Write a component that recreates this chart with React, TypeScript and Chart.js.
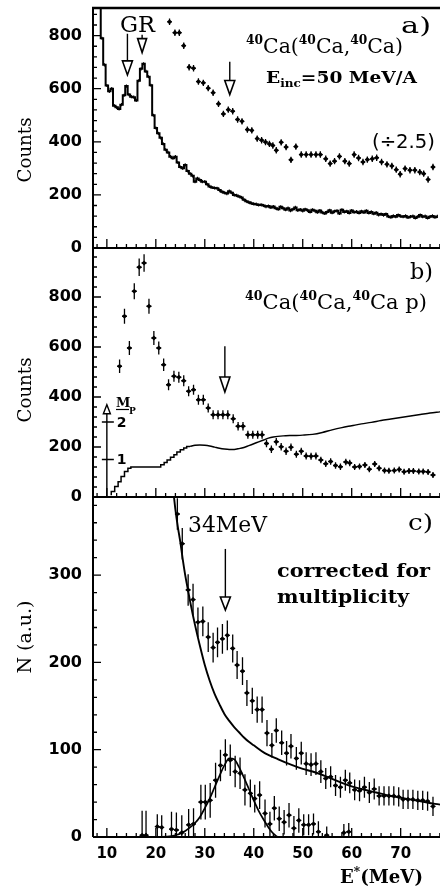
import React, { useEffect, useRef } from "react";
import { Chart, registerables } from "chart.js";
Chart.register(...registerables);

const CW = 460;
const CH = 888;
const SERIF = '"DejaVu Serif", serif';
const SANS = '"DejaVu Sans", sans-serif';

// ---------------- common x axis ----------------
const X_MIN = 7.17;
const X_MAX = 81.3;
const X_LABELS = [10, 20, 30, 40, 50, 60, 70, 80];

// ---------------- panel a ----------------
const A_YMAX = 904;
const A_YTICKS = [0, 200, 400, 600, 800];
const A_HIST_START = 8.0;
const A_HIST_BIN = 0.5;
const A_HIST = [
  990, 930, 790, 690, 612, 590, 600, 536, 530, 524,
  540, 575, 610, 578, 570, 568, 556, 630, 675, 694,
  665, 645, 613, 500, 452, 432, 415, 392, 370, 360,
  344, 338, 344, 322, 305, 300, 313, 290, 280, 272,
  250, 262, 256, 250, 250, 240, 232, 228, 226, 225,
  218, 212, 208, 205, 214, 208, 200, 198, 194, 190,
  182, 176, 172, 169, 166, 165, 162, 163, 160, 156,
  158, 153, 156, 150, 146, 155, 150, 144, 150, 141,
  146, 153, 142, 145, 140, 146, 142, 136, 144, 140,
  135, 141, 134, 130, 136, 142, 133, 138, 140, 130,
  144, 136, 138, 132, 141, 135, 137, 132, 138, 134,
  140, 132, 136, 129, 133, 125, 128, 124, 128, 119,
  116, 121, 118, 124, 120, 118, 121, 115, 118, 120,
  113, 118, 124, 118, 120, 113, 118, 121, 116, 119,
];
const A_HIST_ERR = 6;
const A_PTS_E = [
  22.8, 23.9, 24.8, 25.7, 26.8, 27.7, 28.7, 29.7, 30.7, 31.7,
  32.8, 33.8, 34.8, 35.7, 36.7, 37.6, 38.7, 39.6, 40.7, 41.6,
  42.4, 43.2, 43.9, 44.6, 45.6, 46.6, 47.6, 48.6, 49.7, 50.7,
  51.7, 52.7, 53.6, 54.7, 55.6, 56.5, 57.5, 58.6, 59.5, 60.5,
  61.4, 62.3, 63.2, 64.2, 65.1, 66.1, 67.2, 68.2, 69.1, 69.9,
  70.9, 71.9, 72.9, 73.9, 74.7, 75.6, 76.6,
];
const A_PTS_V = [
  852, 811, 811, 762, 681, 677, 627, 622, 602, 585,
  543, 505, 521, 515, 484, 477, 446, 443, 412, 406,
  399, 392, 386, 368, 398, 380, 332, 382, 352, 352,
  352, 352, 352, 336, 318, 327, 345, 327, 318, 352,
  339, 324, 333, 336, 340, 324, 315, 309, 295, 278,
  299, 293, 293, 286, 280, 258, 305,
];
const A_PTS_ERR = 12;

// ---------------- panel b ----------------
const B_YMAX = 996;
const B_YTICKS = [0, 200, 400, 600, 800];
const B_E = [
  12.6, 13.6, 14.6, 15.6, 16.6, 17.6, 18.6, 19.6, 20.6, 21.6,
  22.6, 23.7, 24.7, 25.7, 26.7, 27.7, 28.7, 29.7, 30.7, 31.7,
  32.7, 33.7, 34.7, 35.8, 36.8, 37.8, 38.8, 39.8, 40.8, 41.7,
  42.6, 43.6, 44.6, 45.6, 46.6, 47.6, 48.7, 49.7, 50.7, 51.7,
  52.7, 53.7, 54.7, 55.7, 56.7, 57.7, 58.8, 59.6, 60.6, 61.6,
  62.7, 63.6, 64.7, 65.6, 66.7, 67.6, 68.7, 69.7, 70.7, 71.7,
  72.6, 73.7, 74.6, 75.6, 76.6,
];
const B_V = [
  523, 723, 596, 823, 919, 936, 763, 636, 596, 529,
  449, 483, 479, 465, 423, 429, 389, 389, 356, 329,
  329, 329, 329, 313, 283, 283, 249, 249, 249, 249,
  214, 191, 221, 201, 183, 199, 171, 183, 164, 163,
  164, 148, 133, 142, 126, 121, 140, 136, 120, 122,
  128, 111, 132, 115, 106, 105, 106, 110, 101, 104,
  104, 102, 102, 100, 88,
];
const B_ERR = [
  27, 30, 28, 32, 35, 35, 30, 28, 26, 25,
  22, 22, 22, 22, 20, 20, 20, 20, 18, 18,
  18, 18, 18, 18, 17, 17, 16, 16, 16, 16,
  15, 15, 15, 15, 15, 15, 14, 14, 14, 14,
  14, 13, 13, 13, 13, 13, 13, 13, 12, 12,
  12, 12, 12, 12, 12, 12, 12, 12, 12, 12,
  12, 12, 12, 12, 12,
];
// proton multiplicity (right-hand M_p scale, 1 unit = 150 counts)
const MP_UNIT = 150;
const MP_TICKS = [1, 2];
const MP_STEP_E = [10.9, 11.6, 12.3, 12.9, 13.6, 14.3, 14.9, 21.0, 21.7, 22.3, 23.0, 23.7, 24.3, 25.0, 25.7, 26.3, 27.0];
const MP_STEP_V = [0.05, 0.15, 0.28, 0.41, 0.55, 0.68, 0.77, 0.8, 0.86, 0.92, 0.99, 1.06, 1.13, 1.2, 1.26, 1.31, 1.35];
const MP_E = [27, 28, 29, 30, 31, 32, 33, 34, 35, 36, 37, 38, 39, 40, 41, 42, 43, 44, 46, 48, 50, 52, 54, 56, 58, 60, 62, 64, 66, 68, 70, 72, 74, 76, 78, 80];
const MP_V = [1.35, 1.38, 1.39, 1.38, 1.36, 1.33, 1.3, 1.28, 1.27, 1.27, 1.29, 1.32, 1.37, 1.42, 1.47, 1.52, 1.57, 1.6, 1.63, 1.64, 1.65, 1.67, 1.72, 1.79, 1.85, 1.9, 1.95, 1.99, 2.04, 2.08, 2.12, 2.16, 2.2, 2.24, 2.27, 2.3];

// ---------------- panel c ----------------
const C_YMAX = 389.5;
const C_YTICKS = [0, 100, 200, 300];
const C_E = [
  24.4, 25.4, 26.6, 27.6, 28.6, 29.6, 30.7, 31.7, 32.6, 33.6,
  34.6, 35.7, 36.6, 37.7, 38.6, 39.7, 40.7, 41.7, 42.7, 43.7,
  44.6, 45.7, 46.7, 47.6, 48.7, 49.7, 50.7, 51.7, 52.7, 53.7,
  54.7, 55.7, 56.7, 57.7, 58.7, 59.6, 60.6, 61.6, 62.6, 63.6,
  64.6, 65.6, 66.6, 67.6, 68.6, 69.6, 70.5, 71.5, 72.5, 73.5,
  74.5, 75.5, 76.6,
];
const C_V = [
  370, 336, 283, 272, 246, 247, 229, 217, 223, 227,
  231, 216, 197, 190, 165, 156, 146, 146, 119, 105,
  122, 108, 96, 104, 90, 96, 84, 83, 84, 75,
  67, 69, 59, 57, 65, 62, 54, 53, 57, 51,
  55, 47, 47, 47, 47, 46, 43, 43, 43, 42,
  42, 41, 35,
];
const C_ERR = [
  18, 18, 18, 18, 17, 17, 17, 17, 17, 17,
  17, 16, 16, 16, 15, 15, 15, 15, 15, 14,
  14, 14, 14, 14, 13, 13, 13, 13, 13, 13,
  12, 12, 12, 12, 12, 12, 12, 12, 12, 12,
  12, 11, 11, 11, 11, 11, 11, 11, 11, 11,
  11, 11, 11,
];
const D_E = [
  17.2, 18.0, 20.3, 21.2, 23.2, 24.2, 25.3, 26.7, 27.7, 29.2,
  30.1, 31.1, 32.2, 33.2, 34.2, 35.2, 36.2, 37.2, 38.2, 39.3,
  40.2, 41.2, 42.3, 43.3, 44.2, 45.2, 46.2, 47.2, 48.2, 49.2,
  50.2, 51.2, 52.2, 53.2, 54.9, 58.4, 59.4,
];
const D_V = [
  2, 2, 12, 11, 9, 8, 5, 14, 15, 40,
  40, 42, 65, 82, 94, 88, 75, 73, 54, 50,
  44, 48, 27, 15, 33, 21, 17, 25, 10, 19,
  14, 14, 15, 6, 2, 5, 6,
];
const D_ERR = [
  28, 28, 14, 14, 20, 20, 20, 18, 18, 20,
  20, 20, 20, 18, 18, 18, 18, 18, 18, 16,
  16, 16, 16, 14, 14, 14, 14, 14, 14, 14,
  12, 12, 12, 12, 10, 10, 10,
];
const BG_E = [23.6, 24.0, 24.5, 25.0, 25.5, 26.0, 26.5, 27.0, 28.0, 29.0, 30.0, 31.0, 32.0, 33.0, 34.0, 35.0, 36.0, 37.0, 38.0, 39.0, 40.0, 42.0, 45.0, 48.0, 50.0, 52.0, 55.0, 58.0, 60.0, 62.0, 65.0, 68.0, 70.0, 73.0, 77.0, 81.0];
const BG_V = [395, 375, 355, 338, 318, 300, 285, 270, 243, 219, 197, 179, 164, 152, 141, 133, 126, 120, 114, 109, 105, 97, 89, 82, 78, 75, 69, 62, 58, 55, 51, 47, 45, 42, 38, 35];
const G_E = [16, 20, 24, 26, 27, 28, 29, 30, 31, 32, 33, 34, 35, 36, 37, 38, 39, 40, 41, 42, 43, 44, 45, 50];
const G_V = [0, 0, 2, 7, 11, 16, 23, 33, 44, 57, 70, 82, 90, 89, 80, 68, 55, 42, 30, 20, 11, 4, 0, 0];

// ---------------- helpers ----------------
const pts = (E: number[], V: number[]) => E.map((e, i) => ({ x: e, y: V[i] }));

type Part = { t: string; f: string; dy?: number };
function drawParts(ctx: CanvasRenderingContext2D, parts: Part[], x: number, y: number, width?: number) {
  ctx.save();
  ctx.textAlign = "left";
  ctx.textBaseline = "alphabetic";
  const ws = parts.map((p) => {
    ctx.font = p.f;
    return ctx.measureText(p.t).width;
  });
  const total = ws.reduce((a, b) => a + b, 0);
  const sx = width ? width / total : 1;
  ctx.translate(x, y);
  ctx.scale(sx, 1);
  ctx.fillStyle = "#000";
  let cx = 0;
  parts.forEach((p, i) => {
    ctx.font = p.f;
    ctx.fillText(p.t, cx, p.dy || 0);
    cx += ws[i];
  });
  ctx.restore();
}
function drawRot(ctx: CanvasRenderingContext2D, text: string, font: string, cx: number, cy: number, width: number) {
  ctx.save();
  ctx.translate(cx, cy);
  ctx.rotate(-Math.PI / 2);
  ctx.font = font;
  const w = ctx.measureText(text).width;
  ctx.scale(width / w, 1);
  ctx.textAlign = "center";
  ctx.textBaseline = "middle";
  ctx.fillStyle = "#000";
  ctx.fillText(text, 0, 0);
  ctx.restore();
}
function arrow(ctx: CanvasRenderingContext2D, px: number, yFrom: number, yTip: number, head: number, hw: number) {
  ctx.save();
  ctx.strokeStyle = "#000";
  ctx.lineWidth = 1.4;
  ctx.beginPath();
  ctx.moveTo(px, yFrom);
  ctx.lineTo(px, yTip - head);
  ctx.stroke();
  ctx.beginPath();
  ctx.moveTo(px - hw, yTip - head);
  ctx.lineTo(px + hw, yTip - head);
  ctx.lineTo(px, yTip);
  ctx.closePath();
  ctx.fillStyle = "#fff";
  ctx.fill();
  ctx.lineWidth = 1.6;
  ctx.stroke();
  ctx.restore();
}

const errPlugin = {
  id: "errbars",
  afterDatasetsDraw(chart: any) {
    const { ctx, chartArea: ca } = chart;
    ctx.save();
    ctx.beginPath();
    ctx.rect(ca.left, ca.top, ca.right - ca.left, ca.bottom - ca.top);
    ctx.clip();
    ctx.strokeStyle = "#000";
    chart.data.datasets.forEach((ds: any) => {
      if (!ds.yErr) return;
      const xs = chart.scales.x;
      const ys = chart.scales[ds.yAxisID || "y"];
      ctx.lineWidth = ds.errWidth || 1.3;
      ctx.beginPath();
      ds.data.forEach((p: any, i: number) => {
        const e = Array.isArray(ds.yErr) ? ds.yErr[i] : ds.yErr;
        const px = xs.getPixelForValue(p.x);
        const py = ys.getPixelForValue(p.y);
        ctx.moveTo(px, ys.getPixelForValue(p.y - e));
        ctx.lineTo(px, ys.getPixelForValue(p.y + e));
        if (ds.xErr) {
          ctx.moveTo(xs.getPixelForValue(p.x - ds.xErr), py);
          ctx.lineTo(xs.getPixelForValue(p.x + ds.xErr), py);
        }
      });
      ctx.stroke();
    });
    ctx.restore();
  },
};

function mkFrame(p: { yMax: number; yMajor: number[]; yMinor: number; topW: number; extra: (ctx: CanvasRenderingContext2D, chart: any) => void }) {
  return {
    id: "frame",
    afterDatasetsDraw(chart: any) {
      const ctx: CanvasRenderingContext2D = chart.ctx;
      const { left, right, top, bottom } = chart.chartArea;
      const xs = chart.scales.x;
      const ys = chart.scales.y;
      ctx.save();
      ctx.strokeStyle = "#000";
      ctx.lineWidth = 1.3;
      ctx.beginPath();
      for (let v = 8; v <= 80; v += 2) {
        const px = xs.getPixelForValue(v);
        const len = v % 10 === 0 ? 9 : 4;
        ctx.moveTo(px, bottom);
        ctx.lineTo(px, bottom - len);
      }
      for (let v = 0; v <= p.yMax; v += p.yMinor) {
        const py = ys.getPixelForValue(v);
        const len = p.yMajor.includes(v) ? 8 : 4;
        ctx.moveTo(left, py);
        ctx.lineTo(left + len, py);
      }
      ctx.stroke();
      ctx.lineWidth = 2;
      ctx.beginPath();
      ctx.moveTo(left, top);
      ctx.lineTo(left, bottom);
      ctx.moveTo(left, bottom);
      ctx.lineTo(right, bottom);
      ctx.stroke();
      ctx.lineWidth = p.topW;
      ctx.beginPath();
      ctx.moveTo(left - 1, top);
      ctx.lineTo(right, top);
      ctx.stroke();
      ctx.restore();
      p.extra(ctx, chart);
    },
  };
}

function scales(yMax: number, yTicks: number[], showX: boolean, xHeight: number) {
  return {
    x: {
      type: "linear",
      min: X_MIN,
      max: X_MAX,
      grid: { display: false, drawTicks: false },
      border: { display: false },
      afterBuildTicks: (s: any) => {
        s.ticks = X_LABELS.map((v) => ({ value: v }));
      },
      ticks: { display: showX, color: "#000", padding: 8, maxRotation: 0, autoSkip: false, font: { family: '"DejaVu Sans"', size: 15, weight: "bold" } },
      afterFit: (s: any) => {
        s.height = xHeight;
        s.paddingLeft = 0;
        s.paddingRight = 0;
      },
    },
    y: {
      type: "linear",
      min: 0,
      max: yMax,
      grid: { display: false, drawTicks: false },
      border: { display: false },
      afterBuildTicks: (s: any) => {
        s.ticks = yTicks.map((v) => ({ value: v }));
      },
      ticks: { color: "#000", padding: 11, font: { family: '"DejaVu Sans"', size: 16, weight: "bold" } },
      afterFit: (s: any) => {
        s.width = 93;
        s.paddingTop = 0;
        s.paddingBottom = 0;
      },
    },
  } as any;
}

const baseOpts = (padTop: number, padBottom: number) => ({
  animation: false,
  responsive: false,
  maintainAspectRatio: false,
  events: [],
  layout: { padding: { top: padTop, bottom: padBottom, left: 0, right: 0 } },
  plugins: { legend: { display: false }, tooltip: { enabled: false } },
});

const pointDs = (data: any[], yErr: any, xErr: number, extra: any = {}) => ({
  data,
  showLine: false,
  pointStyle: "rectRot",
  pointRadius: 2.6,
  pointBackgroundColor: "#000",
  pointBorderWidth: 0,
  borderColor: "#000",
  clip: 0,
  yErr,
  xErr,
  ...extra,
});

// ---------------- panel builders ----------------
function buildA(cv: HTMLCanvasElement) {
  const hist = A_HIST.map((v, i) => ({ x: A_HIST_START + i * A_HIST_BIN, y: v }));
  const extra = (ctx: CanvasRenderingContext2D, chart: any) => {
    const xs = chart.scales.x, ys = chart.scales.y;
    arrow(ctx, xs.getPixelForValue(14.2), ys.getPixelForValue(807), ys.getPixelForValue(652), 14, 5);
    arrow(ctx, xs.getPixelForValue(17.2), ys.getPixelForValue(803), ys.getPixelForValue(736), 14, 4.5);
    arrow(ctx, xs.getPixelForValue(35.1), ys.getPixelForValue(702), ys.getPixelForValue(578), 14, 5);
    drawParts(ctx, [{ t: "GR", f: `22px ${SERIF}` }], 120, 32, 35);
    drawParts(ctx, [{ t: "a)", f: `22px ${SERIF}` }], 401, 33, 30);
    const sup = `bold 12px ${SERIF}`, main = `20px ${SERIF}`;
    drawParts(ctx, [
      { t: "40", f: sup, dy: -9 }, { t: "Ca(", f: main },
      { t: "40", f: sup, dy: -9 }, { t: "Ca,", f: main },
      { t: "40", f: sup, dy: -9 }, { t: "Ca)", f: main },
    ], 246, 53, 157);
    drawParts(ctx, [
      { t: "E", f: `bold 17px ${SERIF}` },
      { t: "inc", f: `bold 11px ${SERIF}`, dy: 4 },
      { t: "=50 MeV/A", f: `bold 17px ${SERIF}` },
    ], 266, 83, 151);
    drawParts(ctx, [{ t: "(÷2.5)", f: `19px ${SANS}` }], 372, 148, 63);
    drawRot(ctx, "Counts", `18px ${SERIF}`, 26, 150, 65);
  };
  return new Chart(cv, {
    type: "line",
    data: {
      datasets: [
        { data: hist, stepped: "middle", borderColor: "#000", borderWidth: 2, pointRadius: 0, clip: 0, yErr: A_HIST_ERR, errWidth: 1.1 } as any,
        pointDs(pts(A_PTS_E, A_PTS_V), A_PTS_ERR, 0.45),
      ],
    },
    options: { ...baseOpts(8, CH - 248), scales: scales(A_YMAX, A_YTICKS, false, 0) } as any,
    plugins: [errPlugin, mkFrame({ yMax: A_YMAX, yMajor: A_YTICKS, yMinor: 40, topW: 2.6, extra })],
  });
}

function buildB(cv: HTMLCanvasElement) {
  const sc = scales(B_YMAX, B_YTICKS, false, 0);
  sc.y2 = { type: "linear", display: false, min: 0, max: B_YMAX / MP_UNIT };
  const extra = (ctx: CanvasRenderingContext2D, chart: any) => {
    const xs = chart.scales.x, ys = chart.scales.y, y2 = chart.scales.y2;
    arrow(ctx, xs.getPixelForValue(34.1), ys.getPixelForValue(603), ys.getPixelForValue(420), 15, 5);
    // M_p axis
    const px = xs.getPixelForValue(10);
    const yTip = ys.getPixelForValue(369);
    ctx.save();
    ctx.strokeStyle = "#000";
    ctx.lineWidth = 1.4;
    ctx.beginPath();
    ctx.moveTo(px, y2.getPixelForValue(0));
    ctx.lineTo(px, yTip + 8);
    MP_TICKS.forEach((m) => {
      const py = y2.getPixelForValue(m);
      ctx.moveTo(px - 5, py);
      ctx.lineTo(px + 7, py);
    });
    ctx.stroke();
    ctx.beginPath();
    ctx.moveTo(px - 3.5, yTip + 9);
    ctx.lineTo(px + 3.5, yTip + 9);
    ctx.lineTo(px, yTip);
    ctx.closePath();
    ctx.fillStyle = "#fff";
    ctx.fill();
    ctx.stroke();
    ctx.fillStyle = "#000";
    ctx.font = `bold 14px ${SANS}`;
    ctx.textBaseline = "middle";
    MP_TICKS.forEach((m) => ctx.fillText(String(m), px + 10, y2.getPixelForValue(m) + 1));
    ctx.textBaseline = "alphabetic";
    ctx.font = `bold 13px ${SERIF}`;
    ctx.fillText("M", 116, 407);
    ctx.lineWidth = 1.2;
    ctx.beginPath();
    ctx.moveTo(116, 409.5);
    ctx.lineTo(129, 409.5);
    ctx.stroke();
    ctx.font = `bold 9px ${SERIF}`;
    ctx.fillText("P", 129, 414);
    ctx.restore();
    drawParts(ctx, [{ t: "b)", f: `22px ${SERIF}` }], 410, 279, 23);
    const sup = `bold 12px ${SERIF}`, main = `20px ${SERIF}`;
    drawParts(ctx, [
      { t: "40", f: sup, dy: -9 }, { t: "Ca(", f: main },
      { t: "40", f: sup, dy: -9 }, { t: "Ca,", f: main },
      { t: "40", f: sup, dy: -9 }, { t: "Ca p)", f: main },
    ], 245, 309, 182);
    drawRot(ctx, "Counts", `18px ${SERIF}`, 26, 390, 65);
  };
  return new Chart(cv, {
    type: "line",
    data: {
      datasets: [
        pointDs(pts(B_E, B_V), B_ERR, 0.5),
        { data: pts(MP_STEP_E, MP_STEP_V), yAxisID: "y2", stepped: "after", borderColor: "#000", borderWidth: 1.5, pointRadius: 0, clip: 0 } as any,
        { data: pts(MP_E, MP_V), yAxisID: "y2", cubicInterpolationMode: "monotone", borderColor: "#000", borderWidth: 1.5, pointRadius: 0, clip: 0 } as any,
      ],
    },
    options: { ...baseOpts(248, CH - 497), scales: sc } as any,
    plugins: [errPlugin, mkFrame({ yMax: B_YMAX, yMajor: B_YTICKS, yMinor: 40, topW: 2, extra })],
  });
}

function buildC(cv: HTMLCanvasElement) {
  const extra = (ctx: CanvasRenderingContext2D, chart: any) => {
    const xs = chart.scales.x, ys = chart.scales.y;
    arrow(ctx, xs.getPixelForValue(34.2), ys.getPixelForValue(330), ys.getPixelForValue(260), 13, 5);
    drawParts(ctx, [{ t: "c)", f: `22px ${SERIF}` }], 408, 530, 25);
    drawParts(ctx, [{ t: "34MeV", f: `22px ${SERIF}` }], 188, 532, 79);
    drawParts(ctx, [{ t: "corrected for", f: `bold 19px ${SERIF}` }], 277, 577, 153);
    drawParts(ctx, [{ t: "multiplicity", f: `bold 19px ${SERIF}` }], 277, 603, 132);
    drawParts(ctx, [
      { t: "E", f: `bold 18px ${SERIF}` },
      { t: "*", f: `bold 12px ${SERIF}`, dy: -7 },
      { t: "(MeV)", f: `bold 18px ${SERIF}` },
    ], 340, 883, 83);
    drawRot(ctx, "N (a.u.)", `18px ${SERIF}`, 26, 637, 73);
  };
  return new Chart(cv, {
    type: "line",
    data: {
      datasets: [
        pointDs(pts(C_E, C_V), C_ERR, 0.5),
        pointDs(pts(D_E, D_V), D_ERR, 0.5),
        { data: pts(BG_E, BG_V), cubicInterpolationMode: "monotone", borderColor: "#000", borderWidth: 1.9, pointRadius: 0, clip: 0 } as any,
        { data: pts(G_E, G_V), cubicInterpolationMode: "monotone", borderColor: "#000", borderWidth: 1.7, pointRadius: 0, clip: 0 } as any,
      ],
    },
    options: { ...baseOpts(497, 0), scales: scales(C_YMAX, C_YTICKS, true, 51) } as any,
    plugins: [errPlugin, mkFrame({ yMax: C_YMAX, yMajor: C_YTICKS, yMinor: 20, topW: 2, extra })],
  });
}

function Panel({ build }: { build: (c: HTMLCanvasElement) => Chart }) {
  const ref = useRef<HTMLCanvasElement>(null);
  useEffect(() => {
    const ch = build(ref.current!);
    return () => ch.destroy();
  }, []);
  return (
    <canvas
      ref={ref}
      width={CW}
      height={CH}
      style={{ position: "absolute", left: 0, top: 0, width: CW, height: CH }}
    />
  );
}

export default function App() {
  return (
    <div
      style={{
        position: "fixed",
        left: 0,
        top: 0,
        width: 440,
        height: 888,
        overflow: "hidden",
        background: "#fff",
      }}
    >
      <Panel build={buildA} />
      <Panel build={buildB} />
      <Panel build={buildC} />
    </div>
  );
}
